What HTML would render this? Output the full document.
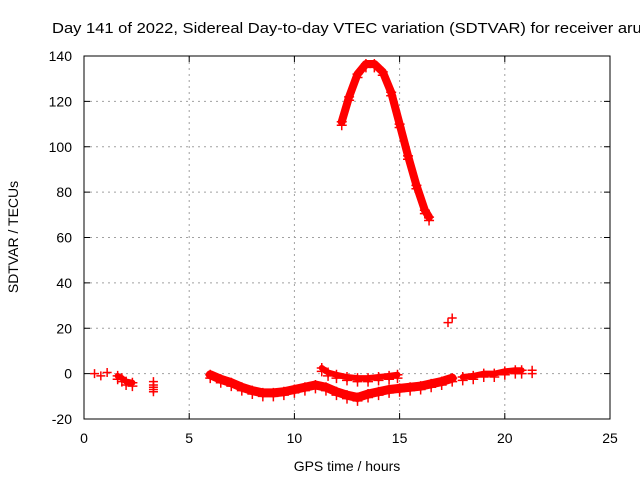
<!DOCTYPE html>
<html><head><meta charset="utf-8"><style>
body{margin:0;background:#fff;}
svg{display:block;font-family:"Liberation Sans",sans-serif;}
</style></head><body>
<svg id="chart" width="640" height="480" viewBox="0 0 640 480">
<text x="52" y="33" font-size="15" textLength="598" lengthAdjust="spacingAndGlyphs" fill="#000">Day 141 of 2022, Sidereal Day-to-day VTEC variation (SDTVAR) for receiver aruc</text>
<g id="grid"></g>
<g id="ticks"></g>
<g id="marks"></g>
<rect x="84" y="56" width="526" height="363" fill="none" stroke="#000" stroke-width="1"/>
<text x="347" y="471" font-size="14" text-anchor="middle">GPS time / hours</text>
<text transform="translate(18,237) rotate(-90)" font-size="14" text-anchor="middle">SDTVAR / TECUs</text>
</svg>
<script>
const xTicks=[0,5,10,15,20,25];
const yTicks=[-20,0,20,40,60,80,100,120,140];
const arcHours=[12.25,12.6,13.0,13.4,13.8,14.2,14.6,15.0,15.4,15.8,16.2,16.4];
const arcValues=[111,122,132,136.5,136.5,133,124,110,96,83,72,69];
const lowHours=[6.0,6.5,7.0,7.5,8,8.5,9,9.5,10,10.5,11,11.5,12,12.5,13,13.5,14,14.5,15,15.5,16,16.5,17,17.5];
const lowValues=[-0.5,-2.5,-4,-6,-7.5,-8.5,-8.5,-8,-7,-6,-5,-6,-8,-9.5,-10.5,-9,-8,-7,-6.5,-6,-5.5,-4.5,-3.5,-2];
const midHours=[11.3,11.6,12,12.5,13,13.5,14,14.5,14.9];
const midValues=[2.5,0.5,-0.5,-1.5,-2,-2,-1.5,-1,-0.5];
const lateHours=[18,18.5,19,19.5,20,20.5,20.8];
const lateValues=[-1.5,-1,0,0,1,1.5,1.5];
const earlyHours=[1.6,1.8,2.0,2.3];
const earlyValues=[-1,-2,-3.5,-4];
const dotHours=[0.5,0.8,1.1,3.3,3.3,3.3,3.3,3.3,21.3,21.3,17.3,17.5];
const dotValues=[0,-1,0.5,-3.5,-5,-6,-7,-8,0,1.5,22.5,24.5];
const X0=84,X1=610,Y0=419,Y1=56;
const xs=v=>X0+(v-0)/25*(X1-X0);
const ys=v=>Y0-(v+20)/160*(Y0-Y1);
const NS="http://www.w3.org/2000/svg";
function mk(t,a,p){const e=document.createElementNS(NS,t);for(const k in a)e.setAttribute(k,a[k]);p.appendChild(e);return e;}
const grid=document.getElementById('grid'),ticks=document.getElementById('ticks'),marks=document.getElementById('marks');
xTicks.forEach(t=>{const x=xs(t);
 if(t>0&&t<25){const g=mk('line',{x1:x,x2:x,y1:Y1,y2:Y0,stroke:'#a0a0a0','stroke-dasharray':'2,4'},grid);
 
 }
 mk('line',{x1:x,x2:x,y1:Y0,y2:Y0-6,stroke:'#000'},ticks);
 mk('line',{x1:x,x2:x,y1:Y1,y2:Y1+6,stroke:'#000'},ticks);
 const l=mk('text',{x:x,y:443,'font-size':14,'text-anchor':'middle'},ticks);l.textContent=t;
 
 });
yTicks.forEach(t=>{const y=ys(t);
 if(t>-20&&t<140){const g=mk('line',{x1:X0,x2:X1,y1:y,y2:y,stroke:'#a0a0a0','stroke-dasharray':'2,4'},grid);
 
 }
 mk('line',{x1:X0,x2:X0+6,y1:y,y2:y,stroke:'#000'},ticks);
 mk('line',{x1:X1,x2:X1-6,y1:y,y2:y,stroke:'#000'},ticks);
 const l=mk('text',{x:72,y:y+5,'font-size':14,'text-anchor':'end'},ticks);l.textContent=t;
 
 });
function plus(h,v,s){const x=xs(h),y=ys(v);s=s||4;
 mk('path',{d:`M${x-s},${y}H${x+s}M${x},${y-s}V${y+s}`,stroke:'#ff0000','stroke-width':1.5,fill:'none'},marks);}
function seg(H,V,name,w){
 const p=mk('polyline',{points:H.map((h,i)=>xs(h)+','+ys(V[i])).join(' '),fill:'none',stroke:'#ff0000','stroke-width':w,'stroke-linejoin':'round','stroke-linecap':'round'},marks);
 
 
 H.forEach((h,i)=>{plus(h,V[i],5);plus(h,V[i]-1.5,5);});}
seg(arcHours,arcValues,'arc-series',8);
seg(lowHours,lowValues,'low-band-series',9);
seg(midHours,midValues,'mid-band-series',6);
seg(lateHours,lateValues,'late-series',6);
seg(earlyHours,earlyValues,'early-series',6);
dotHours.forEach((h,i)=>plus(h,dotValues[i],4.5));
</script>
</body></html>
